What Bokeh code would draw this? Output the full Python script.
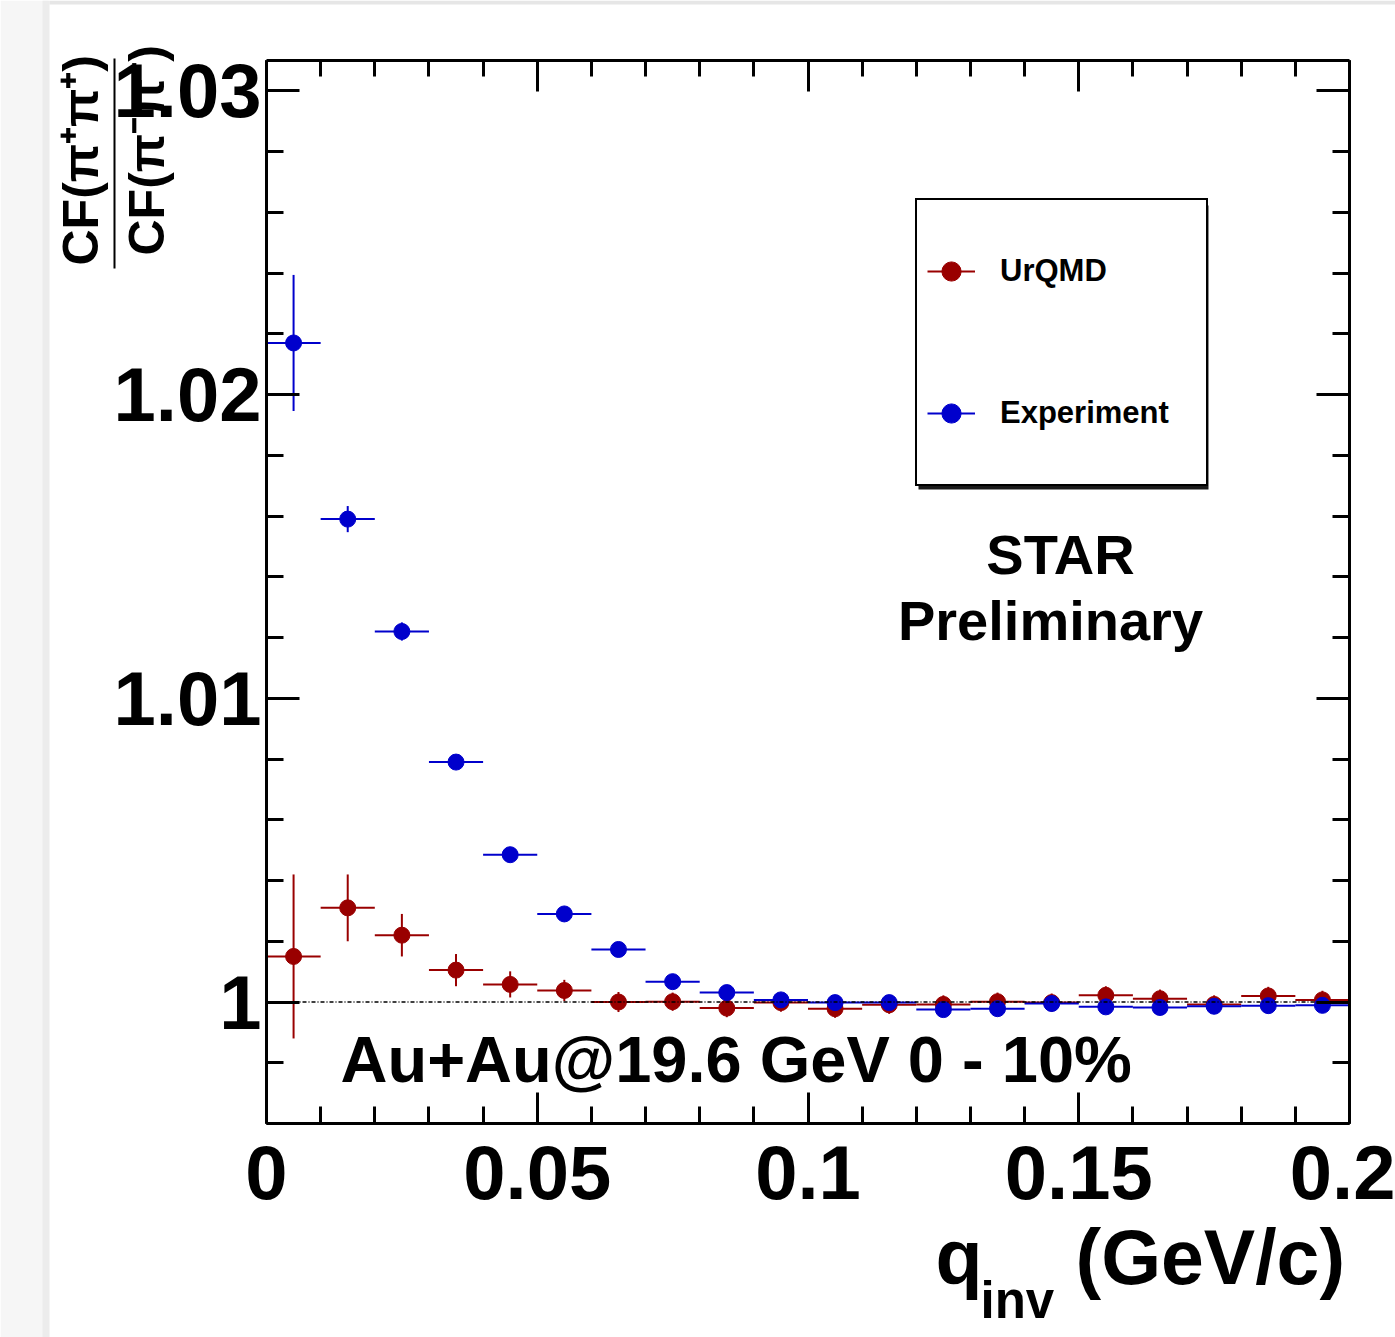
import math

from bokeh.plotting import figure
from bokeh.models import (Range1d, FixedTicker, LinearAxis, CustomJSTickFormatter,
                          Label, BoxAnnotation, Legend, LegendItem, ColumnDataSource)
from bokeh.embed import file_html
from bokeh.resources import INLINE

# ---- data -------------------------------------------------------------
# q_inv bin centres (GeV/c); every bin is 0.01 GeV/c wide
q_inv = [0.005, 0.015, 0.025, 0.035, 0.045, 0.055, 0.065, 0.075, 0.085, 0.095,
         0.105, 0.115, 0.125, 0.135, 0.145, 0.155, 0.165, 0.175, 0.185, 0.195]
bin_width = 0.01

# CF(pi+pi+)/CF(pi-pi-) ratio, UrQMD
urqmd = [1.0015, 1.0031, 1.0022, 1.00105, 1.00058, 1.00038, 1.0000, 1.00001, 0.9998, 0.99998,
         0.99978, 0.99991, 0.99992, 1.00001, 0.99998, 1.00022, 1.00011, 0.99992, 1.0002, 1.00007]
urqmd_err = [0.0027, 0.0011, 0.0007, 0.00053, 0.00043, 0.00035, 0.00033, 0.0003, 0.0003, 0.0003,
             0.0003, 0.0003, 0.0003, 0.0003, 0.0003, 0.0003, 0.0003, 0.0003, 0.0003, 0.0003]

# CF(pi+pi+)/CF(pi-pi-) ratio, measured
experiment = [1.0217, 1.0159, 1.0122, 1.0079, 1.00485, 1.0029, 1.00173, 1.00067, 1.00031, 1.00007,
              0.99998, 0.99998, 0.99975, 0.99978, 0.99995, 0.99984, 0.99982, 0.99986, 0.99988, 0.99989]
experiment_err = [0.00224, 0.00043, 0.0003, 0.0002, 0.0002, 0.0002, 0.00015, 0.00015, 0.00015, 0.00015,
                  0.00015, 0.00015, 0.00015, 0.00015, 0.00015, 0.00015, 0.00015, 0.00015, 0.00015, 0.00015]

series_names = ["UrQMD", "Experiment"]

x_lo, x_hi = 0.0, 0.2
y_lo, y_hi = 0.996, 1.031
x_major = [0.0, 0.05, 0.1, 0.15, 0.2]
x_labels = ["0", "0.05", "0.1", "0.15", "0.2"]
y_major = [1.00, 1.01, 1.02, 1.03]
y_labels = ["1", "1.01", "1.02", "1.03"]

# ---- canvas geometry ---------------------------------------------------
W, H = 1395, 1337
FL, FT, FR, FB = 266, 60, 1349, 1123   # plotting box edges on the canvas

FONT = "Liberation Sans"
RED = "#990000"
BLUE = "#0000cc"

# the figure frame fills the whole canvas; the axes sit on the box edges
kx = (x_hi - x_lo) / (FR - FL)
ky = (y_hi - y_lo) / (FB - FT)
x_range = Range1d(x_lo - FL * kx, x_hi + (W - FR) * kx)
y_range = Range1d(y_lo - (H - FB) * ky, y_hi + FT * ky)

p = figure(width=W, height=H, x_range=x_range, y_range=y_range,
           output_backend="svg", toolbar_location=None,
           min_border=0, x_axis_location=None, y_axis_location=None)
p.grid.grid_line_color = None
p.outline_line_color = None
p.background_fill_color = "white"
p.border_fill_color = "white"

LABEL_CODE = """
for (let i = 0; i < vals.length; i++) {
  if (Math.abs(vals[i] - tick) < 1e-9) return labs[i];
}
return '';
"""

x_ticker = FixedTicker(ticks=x_major, minor_ticks=[round(0.01 * i, 3) for i in range(21)])
y_ticker = FixedTicker(ticks=y_major, minor_ticks=[round(0.996 + 0.002 * i, 4) for i in range(18)])


def style_axis(ax, major_len, minor_len):
    ax.axis_line_width = 3
    ax.axis_line_color = "black"
    ax.major_tick_in = major_len
    ax.major_tick_out = 0
    ax.minor_tick_in = minor_len
    ax.minor_tick_out = 0
    ax.major_tick_line_width = 3
    ax.minor_tick_line_width = 3
    ax.major_tick_line_color = "black"
    ax.minor_tick_line_color = "black"
    ax.major_label_text_font = FONT
    ax.major_label_text_font_style = "bold"
    ax.major_label_text_color = "black"


def blank():
    return CustomJSTickFormatter(code="return '';")


bottom = LinearAxis(ticker=x_ticker, fixed_location=y_lo, bounds=(x_lo, x_hi),
                    formatter=CustomJSTickFormatter(args=dict(vals=x_major, labs=x_labels), code=LABEL_CODE))
style_axis(bottom, 31, 17)
bottom.major_label_text_font_size = "76px"
bottom.major_label_standoff = 22
p.add_layout(bottom, "below")

left = LinearAxis(ticker=y_ticker, fixed_location=x_lo, bounds=(y_lo, y_hi),
                  formatter=CustomJSTickFormatter(args=dict(vals=y_major, labs=y_labels), code=LABEL_CODE))
style_axis(left, 33, 17)
left.major_label_text_font_size = "76px"
left.major_label_standoff = 5
p.add_layout(left, "left")

top = LinearAxis(ticker=x_ticker, fixed_location=y_hi, bounds=(x_lo, x_hi), formatter=blank())
style_axis(top, 31, 16)
top.major_label_text_font_size = "1px"
top.major_label_standoff = 0
p.add_layout(top, "above")

right = LinearAxis(ticker=y_ticker, fixed_location=x_hi, bounds=(y_lo, y_hi), formatter=blank())
style_axis(right, 33, 17)
right.major_label_text_font_size = "1px"
right.major_label_standoff = 0
p.add_layout(right, "right")


# ---- helpers for canvas-pixel placement of decorations -----------------
def box(l, t, r, b, color):
    return BoxAnnotation(left=l, right=r, top=H - t, bottom=H - b,
                         left_units="screen", right_units="screen",
                         top_units="screen", bottom_units="screen",
                         fill_color=color, fill_alpha=1.0, line_color=None)


def label(text, cx, cy, size, align="left", angle=0.0):
    # (cx, cy): anchor on the canvas, vertically at the middle of the text line
    return Label(x=cx, y=H - cy, x_units="screen", y_units="screen", text=text,
                 text_font=FONT, text_font_style="bold", text_font_size=f"{size}px",
                 text_align=align, text_baseline="middle", angle=angle,
                 text_color="black")


# page edge shading
p.add_layout(box(0, 0, 48, H, "#f6f6f6"))
p.add_layout(box(42, 0, 49, H, "#ececec"))
p.add_layout(box(49, 0, W, 4, "#e6e6e6"))


# ---- data glyphs ------------------------------------------------------
def add_series(values, errors, color):
    src = ColumnDataSource(dict(
        x=q_inv, y=values,
        x0=[q - bin_width / 2 for q in q_inv], x1=[q + bin_width / 2 for q in q_inv],
        lo=[v - e for v, e in zip(values, errors)], hi=[v + e for v, e in zip(values, errors)],
    ))
    h = p.segment(x0="x0", y0="y", x1="x1", y1="y", source=src, line_color=color, line_width=2)
    p.segment(x0="x", y0="lo", x1="x", y1="hi", source=src, line_color=color, line_width=2)
    pts = p.scatter(x="x", y="y", source=src, size=16, fill_color=color, line_color=color, marker="circle")
    return h, pts


red_h, red_pts = add_series(urqmd, urqmd_err, RED)
blue_h, blue_pts = add_series(experiment, experiment_err, BLUE)

# unity reference line across the box
p.segment(x0=[x_lo], y0=[1.0], x1=[x_hi], y1=[1.0], line_color="black", line_width=1.5,
          line_dash="4 2 1 2")

# ---- legend -----------------------------------------------------------
p.add_layout(box(918, 205, 1208, 489, "#1a1a1a"))
legend = Legend(items=[LegendItem(label=series_names[0], renderers=[red_h, red_pts]),
                       LegendItem(label=series_names[1], renderers=[blue_h, blue_pts])],
                location=(915, H - 486),
                glyph_width=48, glyph_height=122, spacing=20, padding=10,
                label_standoff=25, label_width=196, margin=0,
                border_line_color="black", border_line_width=2, border_line_alpha=1.0,
                background_fill_color="white", background_fill_alpha=1.0,
                label_text_font=FONT, label_text_font_style="bold", label_text_font_size="31px",
                label_text_color="black")
p.add_layout(legend)

# ---- texts ------------------------------------------------------------
p.add_layout(label("STAR", 1060, 554, 56, align="center"))
p.add_layout(label("Preliminary", 1050, 620, 56, align="center"))
p.add_layout(label("Au+Au@19.6 GeV 0 - 10%", 340, 1059, 65))

# x-axis title
p.add_layout(label("q", 935, 1256, 77))
p.add_layout(label("inv", 980, 1300, 51))
p.add_layout(label("(GeV/c)", 1075, 1256, 77))

# y-axis title: a vertical fraction
p.add_layout(label("CF(π⁺π⁺)", 80, 265, 50, angle=math.pi / 2))
p.add_layout(box(113, 58, 115, 268, "black"))
p.add_layout(label("CF(π⁻π⁻)", 146, 255, 50, angle=math.pi / 2))

open("out.html", "w").write(file_html(p, INLINE))
